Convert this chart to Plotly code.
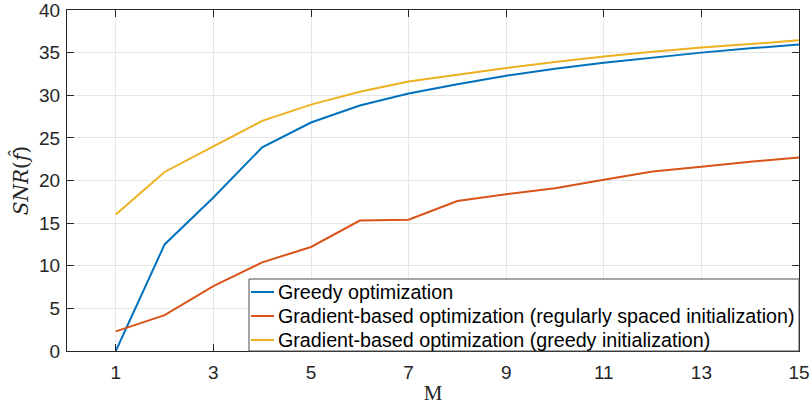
import plotly.graph_objects as go

# Number of components M
M = list(range(1, 16))

# SNR (dB) for each method
snr_greedy = [0.0, 12.5, 18.0, 23.9, 26.8, 28.8, 30.2, 31.3, 32.3, 33.1, 33.8, 34.4, 35.0, 35.5, 35.95]
snr_grad_regular = [2.3, 4.2, 7.6, 10.4, 12.2, 15.3, 15.4, 17.6, 18.4, 19.1, 20.1, 21.05, 21.6, 22.2, 22.7]
snr_grad_greedy = [16.0, 21.0, 24.0, 27.0, 28.9, 30.4, 31.6, 32.4, 33.2, 33.9, 34.55, 35.1, 35.6, 36.0, 36.45]

series_names = [
    "Greedy optimization",
    "Gradient-based optimization (regularly spaced initialization)",
    "Gradient-based optimization (greedy initialization)",
]
series_colors = ["#0072BD", "#D95319", "#EDB120"]

x_ticks = [1, 3, 5, 7, 9, 11, 13, 15]
y_ticks = [0, 5, 10, 15, 20, 25, 30, 35, 40]

W, H = 812, 405
ML, MR, MT, MB = 67, 13, 10, 54
PW, PH = W - ML - MR, H - MT - MB

SANS = "Liberation Sans, Arial, Helvetica"
SERIF = "Liberation Serif, Times New Roman, serif"
MATH = "DejaVu Serif, serif"
INK = "#262626"

fig = go.Figure()
for name, ys, col in zip(series_names, [snr_greedy, snr_grad_regular, snr_grad_greedy], series_colors):
    fig.add_trace(go.Scatter(x=M, y=ys, mode="lines", name=name, showlegend=False,
                             line=dict(color=col, width=2)))

axis_common = dict(
    showline=True, linecolor=INK, linewidth=1, mirror="ticks",
    ticks="inside", ticklen=7, tickcolor=INK,
    showgrid=True, gridcolor="#e6e6e6", gridwidth=1, zeroline=False,
    ticklabeloverflow="allow", automargin=False,
    tickfont=dict(family=SANS, size=19, color=INK),
)


def px_x(px):
    """Horizontal pixel position -> paper coordinate."""
    return (px - ML) / PW


def px_y(py):
    """Vertical pixel position (from top) -> paper coordinate."""
    return (H - MB - py) / PH


# Boxed legend in the lower-right corner of the axes
shapes = [dict(type="rect", xref="paper", yref="paper",
               x0=px_x(249), x1=1, y0=0, y1=px_y(279),
               fillcolor="white", line=dict(color="#4d4d4d", width=1), layer="above")]
annotations = []
row_y = [292, 316, 340]
for name, col, ry in zip(series_names, series_colors, row_y):
    shapes.append(dict(type="line", xref="paper", yref="paper",
                       x0=px_x(251), x1=px_x(274), y0=px_y(ry), y1=px_y(ry),
                       line=dict(color=col, width=2), layer="above"))
    annotations.append(dict(xref="paper", yref="paper", x=px_x(276), y=px_y(ry),
                            xanchor="left", yanchor="middle", showarrow=False,
                            text=name, font=dict(family=SANS, size=19.7, color="black")))

fig.update_layout(
    width=W, height=H,
    margin=dict(l=ML, r=MR, t=MT, b=MB),
    paper_bgcolor="white", plot_bgcolor="white",
    xaxis=dict(range=[0, 15], tickvals=x_ticks, ticklabelstandoff=4,
               title=dict(text="M", standoff=8,
                          font=dict(family=SERIF, size=21, color=INK)),
               **axis_common),
    yaxis=dict(range=[0, 40], tickvals=y_ticks, ticklabelstandoff=2,
               title=dict(text="<i>SNR</i>(<i>f\u0302</i>)", standoff=5,
                          font=dict(family=MATH, size=20, color=INK)),
               **axis_common),
    shapes=shapes,
    annotations=annotations,
    showlegend=False,
)

fig.write_html("out.html")
